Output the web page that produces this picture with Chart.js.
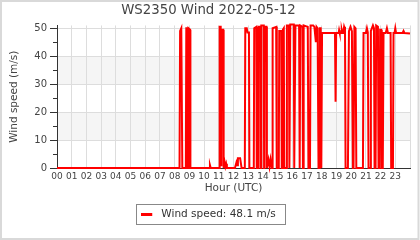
<!DOCTYPE html>
<html><head><meta charset="utf-8">
<script src="https://cdn.jsdelivr.net/npm/chart.js@4/dist/chart.umd.min.js"></script>
<style>html,body{margin:0;padding:0;background:#fff}#wrap{width:420px;height:240px;position:relative}</style>
</head><body><div id="wrap"><canvas id="c" width="420" height="240"></canvas></div>
<script>
const chartTitle = 'WS2350 Wind 2022-05-12';
const seriesLabel = 'Wind speed: 48.1 m/s';
const xTitle = 'Hour (UTC)';
const yTitle = 'Wind speed (m/s)';
const hourLabels = ['00','01','02','03','04','05','06','07','08','09','10','11','12','13','14','15','16','17','18','19','20','21','22','23'];
const yTicks = [0, 10, 20, 30, 40, 50];
const shadedBands = [[10, 20], [30, 40]];

const hours = [0,8.33,8.37,8.45,8.52,8.76,8.79,8.86,8.89,8.92,8.94,9.05,9.07,10.35,10.4,10.45,
11.03,11.06,11.13,11.16,11.18,11.3,11.33,11.4,11.45,11.5,11.55,12.1,12.2,12.25,12.3,12.45,12.55,
12.77,12.8,12.9,12.95,13.05,13.08,13.38,13.41,13.55,13.58,13.68,13.71,13.84,13.87,13.89,14.06,14.08,
14.11,14.24,14.27,14.38,14.45,14.52,14.6,14.63,14.66,14.9,14.94,15.08,15.11,15.25,15.28,15.33,15.36,
15.42,15.45,15.6,15.63,15.77,15.8,15.83,15.86,16.1,16.13,16.18,16.21,16.46,16.49,16.51,16.54,16.69,
16.72,16.74,16.77,17.05,17.1,17.2,17.24,17.42,17.5,17.6,17.65,17.72,17.78,17.83,17.87,17.93,17.97,
18.02,18.9,18.94,18.98,19.15,19.18,19.22,19.32,19.36,19.4,19.46,19.52,19.58,19.62,19.78,19.85,19.95,
20.05,20.12,20.16,20.22,20.3,20.35,20.8,20.84,21.0,21.07,21.13,21.18,21.3,21.34,21.48,21.55,21.59,
21.66,21.7,21.82,21.86,21.93,21.97,22.04,22.08,22.15,22.2,22.35,22.43,22.5,22.68,22.72,22.84,22.88,
22.95,23.0,23.05,23.5,23.56,23.62,24];
const speeds = [0,0,49,50,0,0,50,50,0,0,50,49.5,0,0,1,0,
0,50.5,50.5,1,49.5,49.5,0,2,0.5,1.5,0,0,2,1,3.5,3.5,0,
0,50,50,48.5,48.5,0,0,50,50.5,0,0,50.5,50.5,0,51,51,0,
50.5,50.5,0,3,0.5,3,0,0,50,50.5,0,0,49,49,0,0,49.5,
50,0,0,51,51,0,0,51.3,51.3,0,0,51,51,0,0,51,50.5,
0,0,51,50.5,0,0,51,51,50.5,45,50.5,50,0,0,50,50,0,
48.3,48.3,23.7,48.3,48.3,49.3,48.3,48.3,49.3,48.3,48.3,50.5,49.5,0,0,49,50.5,
49,0,0,50.5,50,0,0,48.3,48.3,50,48.5,0,0,49,51,50,0,
0,51,50.5,0,0,49.5,49.5,0,0,48.3,48.3,50,48.3,48.3,0,0,48.3,
48.3,50,48.3,48.3,49,48.3,48.1];

const FONT = 'DejaVu Sans';
const points = hours.map((h, i) => ({x: h, y: speeds[i]}));

const sample = document.createElement('canvas');
sample.width = 15; sample.height = 3;
(function(){ const g = sample.getContext('2d'); g.fillStyle = '#ff0000'; g.fillRect(0, 0, 11, 3); })();

const decor = {
  id: 'decor',
  beforeDraw(chart) {
    const {ctx, chartArea: a, scales: {y}} = chart;
    ctx.save();
    ctx.fillStyle = '#fff';
    ctx.fillRect(0, 0, chart.width, chart.height);
    ctx.fillStyle = '#f5f5f5';
    shadedBands.forEach(([lo, hi]) => {
      const t = y.getPixelForValue(hi), b = y.getPixelForValue(lo);
      ctx.fillRect(a.left, t, a.right - a.left, b - t);
    });
    ctx.restore();
  },
  afterDraw(chart) {
    const {ctx, chartArea: a, scales: {y}} = chart;
    ctx.save();
    ctx.strokeStyle = '#333'; ctx.lineWidth = 1;
    for (let i = 0; i < yTicks.length - 1; i++) {
      const v = (yTicks[i] + yTicks[i + 1]) / 2;
      const py = Math.round(y.getPixelForValue(v)) + 0.5;
      ctx.beginPath(); ctx.moveTo(a.left - 4, py); ctx.lineTo(a.left, py); ctx.stroke();
    }
    const lg = chart.legend;
    if (lg && lg.legendHitBoxes && lg.legendHitBoxes.length) {
      const hb = lg.legendHitBoxes[0];
      const cy = hb.top + hb.height / 2;
      const l = Math.round(hb.left - 5) + 0.5, r = Math.round(hb.left + hb.width + 9) + 0.5;
      const t = Math.round(cy - 10) + 0.5, b = Math.round(cy + 10) + 0.5;
      ctx.strokeStyle = '#888';
      ctx.strokeRect(l, t, r - l, b - t);
    }
    ctx.strokeStyle = '#d9d9d9'; ctx.lineWidth = 2;
    ctx.strokeRect(1, 1, chart.width - 2.5, chart.height - 2);
    ctx.restore();
  }
};

new Chart(document.getElementById('c'), {
  type: 'line',
  data: {
    datasets: [{
      label: seriesLabel,
      data: points,
      borderColor: '#ff0000',
      backgroundColor: '#ff0000',
      borderWidth: 2,
      pointRadius: 0,
      tension: 0,
      clip: false
    }]
  },
  options: {
    responsive: false,
    animation: false,
    devicePixelRatio: 1,
    layout: {padding: {left: 7, right: 10, top: 2.5, bottom: 10.75}},
    plugins: {
      tooltip: {enabled: false},
      title: {
        display: true, text: chartTitle, color: '#444',
        font: {family: FONT, size: 13.3, weight: 'normal'},
        padding: {top: 0, bottom: 7}
      },
      legend: {
        position: 'bottom',
        labels: {
          color: '#333',
          font: {family: FONT, size: 10.5},
          usePointStyle: true,
          pointStyle: sample,
          pointStyleWidth: 14.75,
          boxHeight: 3,
          padding: 13.75
        }
      }
    },
    scales: {
      x: {
        type: 'linear', min: 0, max: 24,
        afterBuildTicks: s => { s.ticks = Array.from({length: 25}, (_, i) => ({value: i})); },
        afterFit: s => { s.height = 27; },
        ticks: {
          autoSkip: false, maxRotation: 0, padding: 3, color: '#444',
          font: {family: FONT, size: 9},
          callback: v => hourLabels[v] !== undefined ? hourLabels[v] : ''
        },
        grid: {color: '#dddddd', drawTicks: false},
        border: {color: '#333', width: 1},
        title: {display: true, text: xTitle, color: '#444', font: {family: FONT, size: 10.5}, padding: {top: 0, bottom: 0}}
      },
      y: {
        min: 0, max: 51,
        afterBuildTicks: s => { s.ticks = yTicks.map(v => ({value: v})); },
        afterFit: s => { s.width = 50; },
        ticks: {padding: 3, color: '#444', font: {family: FONT, size: 10}},
        grid: {color: '#dddddd', tickLength: 7, tickColor: '#333'},
        border: {color: '#333', width: 1},
        title: {display: true, text: yTitle, color: '#444', font: {family: FONT, size: 10.5}, padding: {top: 1, bottom: 0}}
      }
    }
  },
  plugins: [decor]
});
</script></body></html>
